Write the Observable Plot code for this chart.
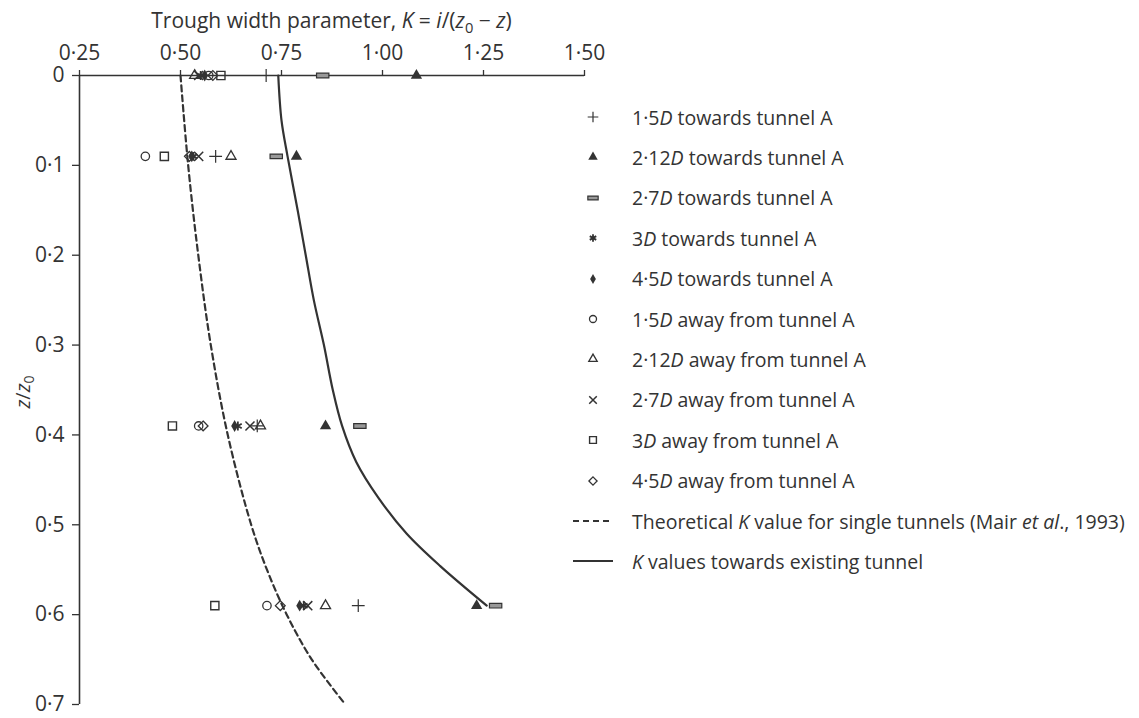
<!DOCTYPE html>
<html>
<head>
<meta charset="utf-8">
<script src="https://cdn.jsdelivr.net/npm/d3@7"></script>
<script src="https://cdn.jsdelivr.net/npm/@observablehq/plot@0.6"></script>
<style>
  html, body { margin: 0; padding: 0; background: #fff; }
  #wrap { position: relative; width: 1139px; height: 718px; font-family: "Open Sans", "Noto Sans", sans-serif; color: #333; }
  #title { position: absolute; left: 79px; width: 505px; top: 6px; text-align: center; font-size: 21px; line-height: 28px; }
  #ylab { position: absolute; left: 22px; top: 392px; transform: translate(-50%, -50%) rotate(-90deg); font-size: 20px; white-space: nowrap; }
  #legend { position: absolute; left: 570px; top: 0; font-size: 19.5px; }
  .row { position: absolute; left: 0; height: 28px; display: flex; align-items: center; white-space: nowrap; }
  .row svg { width: 46px; height: 28px; margin-right: 16px; }
  sub { font-size: 70%; vertical-align: -0.35em; line-height: 0; }
</style>
</head>
<body>
<div id="wrap">
  <div id="title">Trough width parameter, <i>K</i> = <i>i</i>/(<i>z</i><sub>0</sub> − <i>z</i>)</div>
  <div id="ylab"><i>z</i>/<i>z</i><sub>0</sub></div>
  <div id="legend"></div>
</div>
<script>
// ---- data ----
const depths = [0, 0.09, 0.39, 0.59];

const k15Towards   = [0.712, 0.587, 0.690, 0.940];
const k212Towards  = [1.084, 0.787, 0.859, 1.233];
const k27Towards   = [0.852, 0.737, 0.944, 1.280];
const k3Towards    = [0.550, 0.532, 0.642, 0.805];
const k45Towards   = [0.560, 0.528, 0.634, 0.795];
const k15Away      = [0.570, 0.413, 0.545, 0.714];
const k212Away     = [0.535, 0.625, 0.698, 0.859];
const k27Away      = [0.545, 0.545, 0.672, 0.815];
const k3Away       = [0.600, 0.460, 0.480, 0.585];
const k45Away      = [0.580, 0.522, 0.556, 0.747];

const theoryZ = [0, 0.1, 0.2, 0.3, 0.4, 0.5, 0.55, 0.6, 0.65, 0.7];
const theoryK = [0.500, 0.519, 0.544, 0.575, 0.617, 0.675, 0.714, 0.763, 0.825, 0.908];

const towardsZ = [0, 0.05, 0.09, 0.15, 0.2, 0.25, 0.3, 0.35, 0.39, 0.43, 0.47, 0.51, 0.546, 0.59];
const towardsK = [0.742, 0.750, 0.765, 0.790, 0.810, 0.830, 0.855, 0.877, 0.900, 0.935, 0.990, 1.060, 1.143, 1.258];

const xTicks = [0.25, 0.5, 0.75, 1.0, 1.25, 1.5];
const yTicks = [0, 0.1, 0.2, 0.3, 0.4, 0.5, 0.6, 0.7];

const seriesLabels = [
  "1·5<i>D</i> towards tunnel A",
  "2·12<i>D</i> towards tunnel A",
  "2·7<i>D</i> towards tunnel A",
  "3<i>D</i> towards tunnel A",
  "4·5<i>D</i> towards tunnel A",
  "1·5<i>D</i> away from tunnel A",
  "2·12<i>D</i> away from tunnel A",
  "2·7<i>D</i> away from tunnel A",
  "3<i>D</i> away from tunnel A",
  "4·5<i>D</i> away from tunnel A"
];
const theoryLabel = "Theoretical <i>K</i> value for single tunnels (Mair <i>et al</i>., 1993)";
const towardsLabel = "<i>K</i> values towards existing tunnel";

// ---- styling ----
const ink = "#333";
const barSymbol = {
  draw(context, size) {
    const w = Math.sqrt(size) * 1.45, h = w * 0.38;
    context.rect(-w / 2, -h / 2, w, h);
  }
};
const styles = [
  {symbol: d3.symbolPlus, fill: "none", stroke: ink, sw: 1.2, r: 4.2},
  {symbol: d3.symbolTriangle, fill: ink, stroke: "none", sw: 0, r: 4.2},
  {symbol: barSymbol, fill: "#999", stroke: ink, sw: 1.2, r: 4.8},
  {symbol: d3.symbolAsterisk, fill: "none", stroke: ink, sw: 1.8, r: 4.2},
  {symbol: d3.symbolDiamond, fill: ink, stroke: "none", sw: 0, r: 3.6},
  {symbol: d3.symbolCircle, fill: "none", stroke: ink, sw: 1.3, r: 4.2},
  {symbol: d3.symbolTriangle2, fill: "none", stroke: ink, sw: 1.3, r: 4.8},
  {symbol: d3.symbolTimes, fill: "none", stroke: ink, sw: 1.5, r: 4.2},
  {symbol: d3.symbolSquare2, fill: "none", stroke: ink, sw: 1.4, r: 5.2},
  {symbol: d3.symbolDiamond2, fill: "none", stroke: ink, sw: 1.3, r: 4.4}
];
const seriesValues = [k15Towards, k212Towards, k27Towards, k3Towards, k45Towards,
                      k15Away, k212Away, k27Away, k3Away, k45Away];

const dotMarks = seriesValues.map((vals, i) => {
  const st = styles[i];
  const data = vals.map((k, j) => ({K: k, z: depths[j]}));
  return Plot.dot(data, {x: "K", y: "z", symbol: st.symbol, r: st.r,
    fill: st.fill, stroke: st.stroke, strokeWidth: st.sw});
});

const theory = theoryZ.map((z, i) => ({z, K: theoryK[i]}));
const towards = towardsZ.map((z, i) => ({z, K: towardsK[i]}));
const fmt = (d, p) => d === 0 ? "0" : d3.format("." + p + "f")(d).replace(".", "·");

const chart = Plot.plot({
  width: 1139,
  height: 718,
  marginLeft: 79,
  marginRight: 555,
  marginTop: 75,
  marginBottom: 14,
  style: {fontFamily: '"Open Sans", "Noto Sans", sans-serif', fontSize: "21px", color: ink, background: "transparent"},
  x: {domain: [0.25, 1.5]},
  y: {domain: [0, 0.7], reverse: true},
  marks: [
    Plot.axisX({anchor: "top", ticks: xTicks, tickFormat: d => fmt(d, 2), tickSize: 6, tickPadding: 10, label: null, strokeWidth: 1.3, fontSize: 21}),
    Plot.axisY({ticks: yTicks, tickFormat: d => fmt(d, 1), tickSize: 7, tickPadding: 8, label: null, strokeWidth: 1.3, fontSize: 21}),
    Plot.ruleY([0], {stroke: ink, strokeWidth: 1.6}),
    Plot.ruleX([0.25], {stroke: ink, strokeWidth: 1.6}),
    Plot.line(theory, {x: "K", y: "z", stroke: ink, strokeWidth: 2.2, strokeDasharray: "6,4", curve: "catmull-rom"}),
    Plot.line(towards, {x: "K", y: "z", stroke: ink, strokeWidth: 2.2, curve: "catmull-rom"}),
    ...dotMarks
  ]
});
document.getElementById("wrap").prepend(chart);
chart.style.position = "absolute";
chart.style.left = "0";
chart.style.top = "0";
chart.style.overflow = "visible";

// ---- legend ----
const legend = d3.select("#legend");
const rowTop = 117, rowStep = 40.4;
const allRows = seriesLabels.map((l, i) => ({label: l, kind: "sym", i}))
  .concat([{label: theoryLabel, kind: "dash"}, {label: towardsLabel, kind: "solid"}]);
allRows.forEach((row, n) => {
  const div = legend.append("div").attr("class", "row").style("top", (rowTop + n * rowStep - 14) + "px");
  const svg = div.append("svg");
  if (row.kind === "sym") {
    const st = styles[row.i];
    svg.append("path")
      .attr("transform", "translate(23,14)")
      .attr("d", d3.symbol(st.symbol, Math.PI * st.r * st.r * 0.7)())
      .attr("fill", st.fill).attr("stroke", st.stroke).attr("stroke-width", st.sw);
  } else {
    svg.append("line").attr("x1", 3).attr("x2", 43).attr("y1", 14).attr("y2", 14)
      .attr("stroke", ink).attr("stroke-width", 2.2)
      .attr("stroke-dasharray", row.kind === "dash" ? "6,4" : null);
  }
  div.append("span").html(row.label);
});
</script>
</body>
</html>
